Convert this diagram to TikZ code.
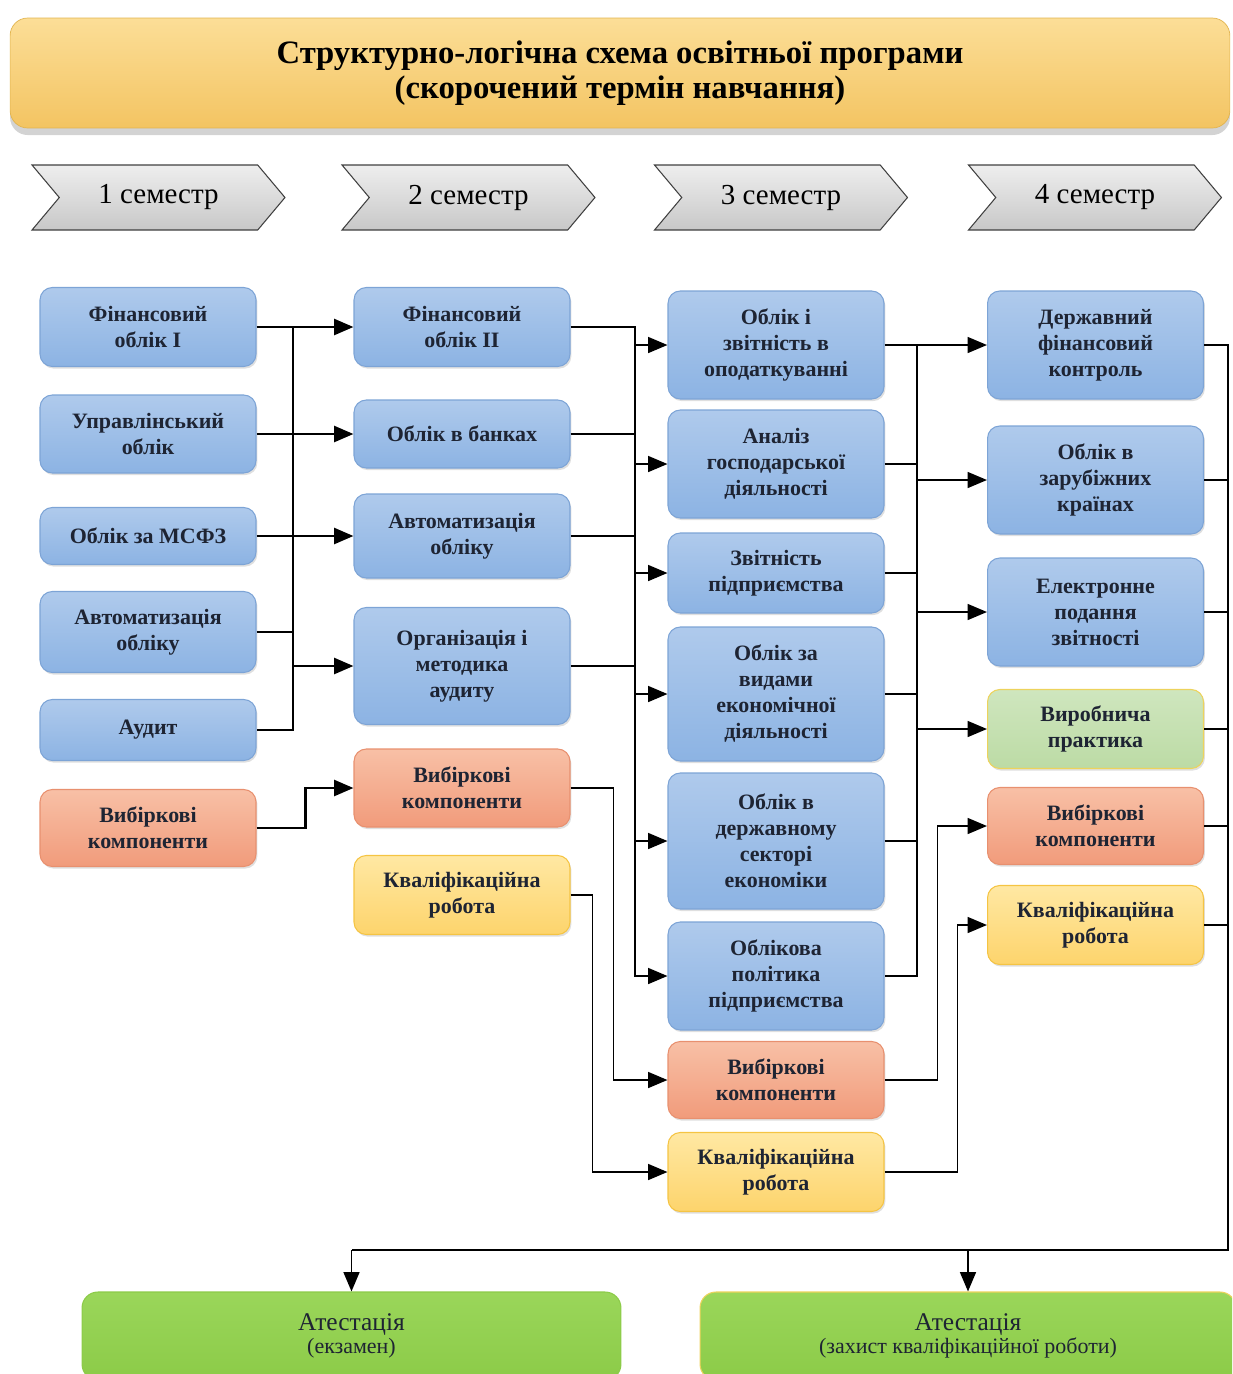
\documentclass[tikz,border=0pt]{standalone}
\usepackage{fontspec}
\setmainfont{Liberation Serif}
\usetikzlibrary{arrows.meta,shapes.symbols,shadows}

\definecolor{bluetop}{HTML}{AFCAEC}
\definecolor{bluebot}{HTML}{8CB3E3}
\definecolor{blueline}{HTML}{7DA4D6}
\definecolor{orangetop}{HTML}{F8C0A6}
\definecolor{orangebot}{HTML}{F19B7B}
\definecolor{orangeline}{HTML}{E8906F}
\definecolor{yellowtop}{HTML}{FFE8A3}
\definecolor{yellowbot}{HTML}{FDD46C}
\definecolor{yellowline}{HTML}{F5C443}
\definecolor{greentop}{HTML}{CFE6BE}
\definecolor{greenbot}{HTML}{BCDBA5}
\definecolor{greenline}{HTML}{EDD35C}
\definecolor{atttop}{HTML}{9AD65A}
\definecolor{attbot}{HTML}{8CCB48}
\definecolor{titletop}{HTML}{FCDE97}
\definecolor{titlebot}{HTML}{F3C462}
\definecolor{titleline}{HTML}{E2B44E}
\definecolor{semtop}{HTML}{EEEEEE}
\definecolor{sembot}{HTML}{C8C8C8}
\definecolor{boxtext}{HTML}{1E2433}

\tikzset{
	blk/.style={rounded corners=7pt, align=center, minimum width=4.32cm, inner sep=2pt,
		line width=0.6pt, text=boxtext, font=\bfseries\fontsize{12.5}{14.8}\selectfont,
		drop shadow={opacity=0.25, shadow xshift=0.8pt, shadow yshift=-1.2pt}},
	bluebox/.style={blk, minimum height=#1*0.02cm, top color=bluetop, bottom color=bluebot, draw=blueline},
	orangebox/.style={blk, minimum height=#1*0.02cm, top color=orangetop, bottom color=orangebot, draw=orangeline},
	yellowbox/.style={blk, minimum height=#1*0.02cm, top color=yellowtop, bottom color=yellowbot, draw=yellowline},
	greenbox/.style={blk, minimum height=#1*0.02cm, top color=greentop, bottom color=greenbot, draw=greenline},
	attbox/.style={rounded corners=9pt, align=center, minimum height=1.76cm, line width=0.6pt,
		top color=atttop, bottom color=attbot, text=boxtext},
	sem/.style={signal, signal from=west, signal to=east, signal pointer angle=100,
		minimum width=5.06cm, minimum height=1.3cm, draw=black!75, line width=0.6pt,
		top color=semtop, bottom color=sembot, font=\fontsize{16.5}{18}\selectfont},
	conn/.style={line width=1.1pt},
	arr/.style={conn, -{Triangle[length=11pt,width=9pt]}},
	thk/.style={line width=1.6pt},
}

\begin{document}
\begin{tikzpicture}[x=0.02cm, y=-0.02cm]
	\useasboundingbox (0,0) rectangle (1232,1374);
	\clip (0,0) rectangle (1232,1374);

	% title and semesters
	\node[rounded corners=10pt, minimum width=24.4cm, minimum height=2.2cm, align=center,
		top color=titletop, bottom color=titlebot, draw=titleline,
		drop shadow={opacity=0.35, shadow xshift=0pt, shadow yshift=-4pt},
		font=\bfseries\fontsize{18.6}{20}\selectfont] (title) at (620,73)
		{Структурно-логічна схема освітньої програми\\(скорочений термін навчання)};
	\node[sem] (s1) at (158.5,197.5) {1 семестр};
	\node[sem] (s2) at (468.5,197.5) {2 семестр};
	\node[sem] (s3) at (781,197.5) {3 семестр};
	\node[sem] (s4) at (1095,197.5) {4 семестр};

	% semester 1
	\node[bluebox=79] (fo1) at (148,327) {Фінансовий\\облік І};
	\node[bluebox=78] (upr) at (148,434) {Управлінський\\облік};
	\node[bluebox=57] (msfz) at (148,536) {Облік за МСФЗ};
	\node[bluebox=81] (avt1) at (148,632) {Автоматизація\\обліку};
	\node[bluebox=61] (aud) at (148,730) {Аудит};
	\node[orangebox=77] (vyb1) at (148,828) {Вибіркові\\компоненти};

	% semester 2
	\node[bluebox=79] (fo2) at (462,327) {Фінансовий\\облік ІІ};
	\node[bluebox=68] (bank) at (462,434) {Облік в банках};
	\node[bluebox=84] (avt2) at (462,536) {Автоматизація\\обліку};
	\node[bluebox=117] (org) at (462,666) {Організація і\\методика\\аудиту};
	\node[orangebox=78] (vyb2) at (462,788) {Вибіркові\\компоненти};
	\node[yellowbox=79] (kv2) at (462,895) {Кваліфікаційна\\робота};

	% semester 3
	\node[bluebox=108] (obz) at (776,345) {Облік і\\звітність в\\оподаткуванні};
	\node[bluebox=108] (anal) at (776,464) {Аналіз\\господарської\\діяльності};
	\node[bluebox=80] (zvit) at (776,573) {Звітність\\підприємства};
	\node[bluebox=134] (vyd) at (776,694) {Облік за\\видами\\економічної\\діяльності};
	\node[bluebox=136] (derzh) at (776,841) {Облік в\\державному\\секторі\\економіки};
	\node[bluebox=108] (pol) at (776,976) {Облікова\\політика\\підприємства};
	\node[orangebox=77] (vyb3) at (776,1080) {Вибіркові\\компоненти};
	\node[yellowbox=79] (kv3) at (776,1172) {Кваліфікаційна\\робота};

	% semester 4
	\node[bluebox=108] (dfk) at (1095.5,345) {Державний\\фінансовий\\контроль};
	\node[bluebox=108] (zar) at (1095.5,480) {Облік в\\зарубіжних\\країнах};
	\node[bluebox=108] (elek) at (1095.5,612) {Електронне\\подання\\звітності};
	\node[greenbox=79] (vyr) at (1095.5,729) {Виробнича\\практика};
	\node[orangebox=77] (vyb4) at (1095.5,826) {Вибіркові\\компоненти};
	\node[yellowbox=79] (kv4) at (1095.5,925) {Кваліфікаційна\\робота};

	% attestation
	\node[attbox, minimum width=10.78cm, draw=attbot] (att1) at (351.5,1336)
		{{\fontsize{14.5}{16}\selectfont Атестація}\\[1pt]{\fontsize{12.5}{14}\selectfont (екзамен)}};
	\node[attbox, minimum width=10.72cm, draw=greenline] (att2) at (968,1336)
		{{\fontsize{14.5}{16}\selectfont Атестація}\\[1pt]{\fontsize{12.5}{14}\selectfont (захист кваліфікаційної роботи)}};

	% semester 1 -> 2
	\coordinate (tr1) at (293,0);
	\draw[thk] (fo1.east -| tr1) |- (aud.east);
	\draw[thk] (avt1.east) -- (avt1.east -| tr1);
	\draw[arr, thk] (fo1.east) -- (fo2.west);
	\draw[arr, thk] (upr.east) -- (bank.west);
	\draw[arr, thk] (msfz.east) -- (avt2.west);
	\draw[arr, thk] (org.west -| tr1) -- (org.west);
	\draw[arr, thk] (vyb1.east) -- ++(49,0) |- (vyb2.west);

	% semester 2 -> 3
	\coordinate (tr2) at (635,0);
	\draw[arr] (fo2.east) -- (fo2.east -| tr2) |- (pol.west);
	\foreach \n in {bank,avt2,org}
		\draw[conn] (\n.east) -- (\n.east -| tr2);
	\foreach \n in {obz,anal,zvit,vyd,derzh}
		\draw[arr] (\n.west -| tr2) -- (\n.west);
	\draw[arr] (vyb2.east) -- ++(43,0) |- (vyb3.west);
	\draw[arr] (kv2.east) -- ++(22,0) |- (kv3.west);

	% semester 3 -> 4
	\coordinate (tr3) at (917,0);
	\draw[arr] (obz.east) -- (dfk.west);
	\draw[conn] (obz.east -| tr3) |- (pol.east);
	\foreach \n in {anal,zvit,vyd,derzh}
		\draw[conn] (\n.east) -- (\n.east -| tr3);
	\foreach \n in {zar,elek,vyr}
		\draw[arr] (\n.west -| tr3) -- (\n.west);
	\draw[arr] (vyb3.east) -- ++(53,0) |- (vyb4.west);
	\draw[arr] (kv3.east) -- ++(73,0) |- (kv4.west);

	% semester 4 -> attestation
	\coordinate (bus) at (1228,1250);
	\draw[conn] (dfk.east) -| (bus) -- (att1.north |- bus);
	\foreach \n in {zar,elek,vyr,vyb4,kv4}
		\draw[conn] (\n.east) -- (\n.east -| bus);
	\draw[arr] (att1.north |- bus) -- (att1.north);
	\draw[arr] (att2.north |- bus) -- (att2.north);
\end{tikzpicture}
\end{document}
